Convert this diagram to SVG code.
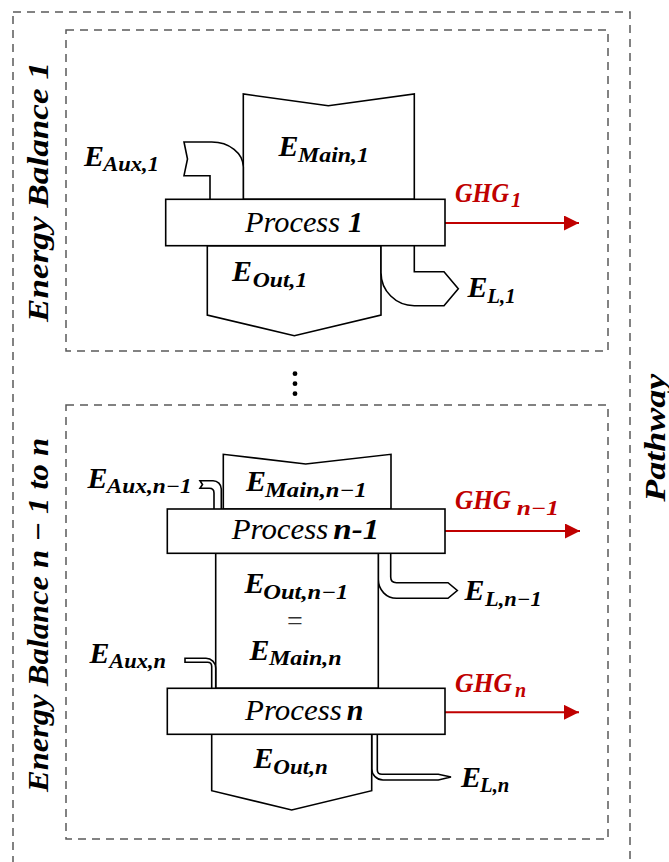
<svg xmlns="http://www.w3.org/2000/svg" width="669" height="862" viewBox="0 0 669 862">
  <defs>
    <style>
      .frame { fill: none; stroke: #595959; stroke-width: 1.5; stroke-dasharray: 8 6; }
      .shape { fill: #fff; stroke: #000; stroke-width: 1.6; stroke-linejoin: miter; }
      .ghg { stroke: #C00000; stroke-width: 2; fill: none; }
      .m { font-family: "Liberation Serif", "Times New Roman", serif; font-weight: bold; font-style: italic; fill: #000; }
      .e { font-size: 30px; }
      .s { font-size: 20px; }
      .red { fill: #C00000; }
      .proc { font-family: "Liberation Serif", "Times New Roman", serif; font-style: italic; font-size: 30px; fill: #000; }
      .side { font-size: 29px; }
      .eq { font-family: "Liberation Serif", serif; font-size: 28px; fill: #333; }
    </style>
    <marker id="arrowRed" viewBox="0 0 10 10" refX="10" refY="5" markerWidth="7.5" markerHeight="7.5" markerUnits="strokeWidth" orient="auto">
      <path d="M0,0 L10,5 L0,10 Z" fill="#C00000"/>
    </marker>
  </defs>

  <!-- dashed system boundaries -->
  <g id="boundaries">
    <rect class="frame" x="13" y="12" width="617" height="880"/>
    <rect class="frame" x="66" y="30" width="542" height="321"/>
    <rect class="frame" x="66" y="405" width="542" height="434"/>
  </g>

  <!-- side titles -->
  <g id="titles">
    <text class="m side" transform="translate(48,322) rotate(-90)" textLength="260" lengthAdjust="spacingAndGlyphs">Energy Balance 1</text>
    <text class="m side" transform="translate(48,792) rotate(-90)" textLength="354" lengthAdjust="spacingAndGlyphs">Energy Balance n − 1 to n</text>
    <text class="m side" transform="translate(665,501.7) rotate(-90)" textLength="128" lengthAdjust="spacingAndGlyphs">Pathway</text>
  </g>

  <!-- continuation dots -->
  <g id="ellipsis" fill="#000">
    <circle cx="295" cy="373.7" r="2.4"/>
    <circle cx="295" cy="383.7" r="2.4"/>
    <circle cx="295" cy="393.7" r="2.4"/>
  </g>

  <!-- emission arrows -->
  <g id="connectors">
    <line class="ghg" x1="445" y1="223" x2="579" y2="223" marker-end="url(#arrowRed)"/>
    <line class="ghg" x1="445" y1="531" x2="580" y2="531" marker-end="url(#arrowRed)"/>
    <line class="ghg" x1="445" y1="712.3" x2="579" y2="712.3" marker-end="url(#arrowRed)"/>
  </g>

  <!-- process 1 -->
  <g id="flow-main-1">
    <polygon class="shape" points="243.3,199.3 243.3,94 328.3,105.7 414.3,94 414.3,199.3"/>
    <text class="m e" x="278.5" y="156">E</text>
    <text class="m s" x="298" y="161.7" textLength="71" lengthAdjust="spacingAndGlyphs">Main,1</text>
  </g>
  <g id="flow-aux-1">
    <path class="shape" d="M210,199.3 V175.7 H184 L187.5,159 L184,142 H211.7 A31.6,25 0 0 1 243.3,167 V199.3"/>
    <text class="m e" x="84" y="165.7">E</text>
    <text class="m s" x="103.3" y="170.7" textLength="55.7" lengthAdjust="spacingAndGlyphs">Aux,1</text>
  </g>
  <g id="flow-out-1">
    <polygon class="shape" points="207.3,245.7 207.3,315 294.3,335.7 381,315 381,245.7"/>
    <text class="m e" x="232" y="281">E</text>
    <text class="m s" x="252.7" y="287.3" textLength="54.6" lengthAdjust="spacingAndGlyphs">Out,1</text>
  </g>
  <g id="flow-loss-1">
    <path class="shape" d="M414.3,245.7 V271.7 H444 L458.3,288.7 L444,305.7 H414.3 A33.3,33 0 0 1 381,272.7 V245.7"/>
    <text class="m e" x="467.5" y="296.7">E</text>
    <text class="m s" x="487.3" y="303.3" textLength="28.4" lengthAdjust="spacingAndGlyphs">L,1</text>
  </g>
  <g id="process-1">
    <rect class="shape" x="165.7" y="199.3" width="279.3" height="46.4"/>
    <text class="proc" x="245" y="231.7" textLength="95" lengthAdjust="spacingAndGlyphs">Process</text>
    <text class="proc" x="348" y="231.7" font-weight="bold">1</text>
  </g>
  <g id="ghg-1">
    <text class="m red" x="455" y="201.7" font-size="27" textLength="54" lengthAdjust="spacingAndGlyphs">GHG</text>
    <text class="m red" x="511" y="206.5" font-size="21">1</text>
  </g>

  <!-- processes n-1 and n -->
  <g id="flow-main-n-1">
    <polygon class="shape" points="223.3,509 223.3,454.3 305.7,464 391,454.3 391,509"/>
    <text class="m e" x="246" y="491">E</text>
    <text class="m s" x="265" y="496.7" textLength="101.7" lengthAdjust="spacingAndGlyphs">Main,n−1</text>
  </g>
  <g id="flow-aux-n-1">
    <path class="shape" d="M214,509 V493 Q214,488.3 209.3,488.3 H200 L202.5,484.5 L200,480.7 H213 A8.3,8.3 0 0 1 221.3,489 V509"/>
    <text class="m e" x="87.5" y="488.3">E</text>
    <text class="m s" x="106.7" y="493.3" textLength="85" lengthAdjust="spacingAndGlyphs">Aux,n−1</text>
  </g>
  <g id="flow-loss-n-1">
    <path class="shape" d="M390.7,553.3 V577 Q390.7,582.7 396.4,582.7 H448 L457.3,590.5 L448,598.3 H396.5 A18.2,18.7 0 0 1 378.3,579.6 V553.3"/>
    <text class="m e" x="464.5" y="600">E</text>
    <text class="m s" x="485" y="605.7" textLength="56.7" lengthAdjust="spacingAndGlyphs">L,n−1</text>
  </g>
  <g id="flow-out-n-1">
    <rect class="shape" x="215.7" y="553.3" width="162.6" height="135"/>
    <text class="m e" x="244.5" y="593.3">E</text>
    <text class="m s" x="263.3" y="599.3" textLength="85" lengthAdjust="spacingAndGlyphs">Out,n−1</text>
    <text class="eq" x="295" y="630" text-anchor="middle">=</text>
    <text class="m e" x="249.5" y="660">E</text>
    <text class="m s" x="269" y="665" textLength="72.7" lengthAdjust="spacingAndGlyphs">Main,n</text>
  </g>
  <g id="process-n-1">
    <rect class="shape" x="167.3" y="509" width="277.7" height="44.3"/>
    <text class="proc" x="231.7" y="539" textLength="96.6" lengthAdjust="spacingAndGlyphs">Process</text>
    <text class="proc" x="333.3" y="539" font-weight="bold" textLength="46" lengthAdjust="spacingAndGlyphs">n-1</text>
  </g>
  <g id="ghg-n-1">
    <text class="m red" x="455" y="509" font-size="27" textLength="56" lengthAdjust="spacingAndGlyphs">GHG</text>
    <text class="m s red" x="516.7" y="515" textLength="42.3" lengthAdjust="spacingAndGlyphs">n−1</text>
  </g>

  <g id="flow-aux-n">
    <path class="shape" d="M211.7,688.3 V666.5 Q211.7,662.3 207.5,662.3 H185 V658.3 H206 A9.7,9.7 0 0 1 215.7,668 V688.3"/>
    <text class="m e" x="89.5" y="663.3">E</text>
    <text class="m s" x="109.3" y="668.3" textLength="56.7" lengthAdjust="spacingAndGlyphs">Aux,n</text>
  </g>
  <g id="flow-loss-n">
    <path class="shape" d="M377.3,734.3 V770 Q377.3,774.3 382,774.3 H438.3 L451,777 L438.3,780 H383 A11.3,11.3 0 0 1 371.7,768.7 V734.3"/>
    <text class="m e" x="461" y="786.7">E</text>
    <text class="m s" x="480" y="791.7" textLength="29.3" lengthAdjust="spacingAndGlyphs">L,n</text>
  </g>
  <g id="flow-out-n">
    <polygon class="shape" points="211.7,734.3 211.7,790.7 291.7,810 371.7,790.7 371.7,734.3"/>
    <text class="m e" x="253.5" y="768.3">E</text>
    <text class="m s" x="273.3" y="774" textLength="54.4" lengthAdjust="spacingAndGlyphs">Out,n</text>
  </g>
  <g id="process-n">
    <rect class="shape" x="167.3" y="688.3" width="277.7" height="46"/>
    <text class="proc" x="245" y="720" textLength="96.7" lengthAdjust="spacingAndGlyphs">Process</text>
    <text class="proc" x="346.7" y="720" font-weight="bold">n</text>
  </g>
  <g id="ghg-n">
    <text class="m red" x="455" y="691.7" font-size="27" textLength="57" lengthAdjust="spacingAndGlyphs">GHG</text>
    <text class="m s red" x="515" y="696.7">n</text>
  </g>
</svg>
